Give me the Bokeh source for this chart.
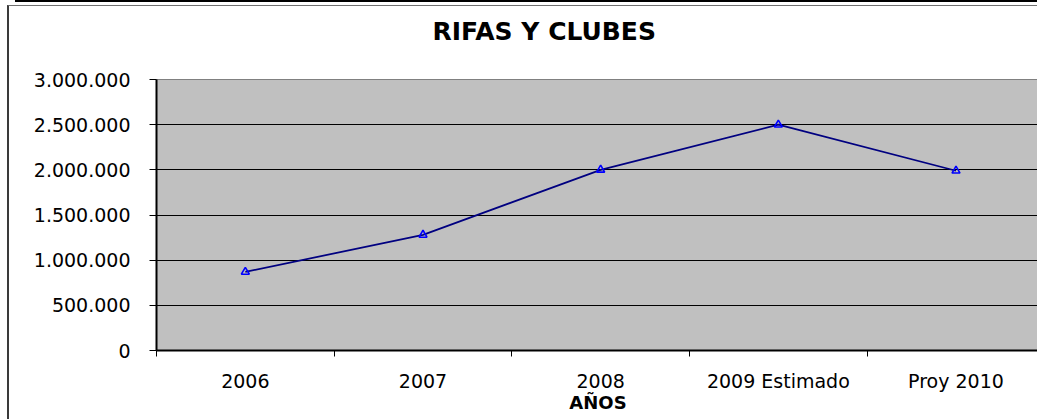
from bokeh.plotting import figure
from bokeh.models import Range1d, FixedTicker, Title
from bokeh.embed import file_html
from bokeh.resources import INLINE

# ---- data ----
categories = ["2006", "2007", "2008", "2009 Estimado", "Proy 2010"]
values = [870000, 1280000, 2000000, 2500000, 1990000]
y_ticks = [0, 500000, 1000000, 1500000, 2000000, 2500000, 3000000]
y_tick_labels = ["0", "500.000", "1.000.000", "1.500.000", "2.000.000", "2.500.000", "3.000.000"]
title_text = "RIFAS Y CLUBES"
x_title = "AÑOS"

x_pos = list(range(1, len(categories) + 1))
boundaries = [i + 0.5 for i in range(0, len(categories) + 1)]

FONT = "DejaVu Sans"

p = figure(width=1030, height=414, output_backend="svg", toolbar_location=None,
           x_range=Range1d(0.5, 5.47), y_range=Range1d(0, 3000000),
           min_border_left=147, min_border_top=73, min_border_bottom=70, min_border_right=0,
           background_fill_color="#C0C0C0", border_fill_color="white")

# chart box border (the chart object's frame in the sheet) + sheet cell border above it
p.styles = {"margin-left": "7px", "margin-top": "5px",
            "border-left": "2px solid #3a3a3a", "border-top": "1px solid #707070",
            "box-shadow": "8px -3px 0 0 #ffffff, 8px -5px 0 0 #000000"}

p.outline_line_color = "#808080"
p.outline_line_width = 1

# spacer between title and plot area (added first -> closest to the frame)
p.add_layout(Title(text=" ", text_font_size="12px", standoff=13), "above")

# title
p.title.text = title_text
p.title.text_font = FONT
p.title.text_font_size = "25px"
p.title.text_font_style = "bold"
p.title.text_color = "black"
p.title.align = "left"
p.title.offset = 276
p.title.standoff = 10

# x axis
p.xaxis.ticker = FixedTicker(ticks=x_pos, minor_ticks=boundaries)
p.xaxis.major_label_overrides = {x: c for x, c in zip(x_pos, categories)}
p.xaxis.major_tick_line_color = None
p.xaxis.major_tick_out = 0
p.xaxis.major_tick_in = 0
p.xaxis.minor_tick_line_color = "black"
p.xaxis.minor_tick_out = 6
p.xaxis.minor_tick_in = 0
p.xaxis.axis_line_color = "black"
p.xaxis.axis_line_width = 2
p.xaxis.major_label_standoff = 13
p.xaxis.major_label_text_font = FONT
p.xaxis.major_label_text_font_size = "19px"
p.xaxis.major_label_text_color = "black"
p.xaxis.axis_label = x_title
p.xaxis.axis_label_text_font = FONT
p.xaxis.axis_label_text_font_size = "18px"
p.xaxis.axis_label_text_font_style = "bold"
p.xaxis.axis_label_text_color = "black"
p.xaxis.axis_label_standoff = -3

# y axis
p.yaxis.ticker = FixedTicker(ticks=y_ticks, minor_ticks=[])
p.yaxis.major_label_overrides = {t: l for t, l in zip(y_ticks, y_tick_labels)}
p.yaxis.major_tick_line_color = "black"
p.yaxis.major_tick_out = 7
p.yaxis.major_tick_in = 0
p.yaxis.minor_tick_line_color = None
p.yaxis.axis_line_color = "black"
p.yaxis.axis_line_width = 2
p.yaxis.major_label_standoff = 19
p.yaxis.major_label_text_font = FONT
p.yaxis.major_label_text_font_size = "19px"
p.yaxis.major_label_text_color = "black"

# grid
p.xgrid.visible = False
p.ygrid.ticker = FixedTicker(ticks=y_ticks[1:-1])
p.ygrid.grid_line_color = "black"
p.ygrid.grid_line_width = 1

# series
p.line(x_pos, values, line_color="#000080", line_width=1.75)
p.scatter(x_pos, values, marker="triangle", size=8, line_color="#0000FF",
          fill_alpha=0, line_width=1.6)

open("out.html", "w").write(file_html(p, INLINE))
